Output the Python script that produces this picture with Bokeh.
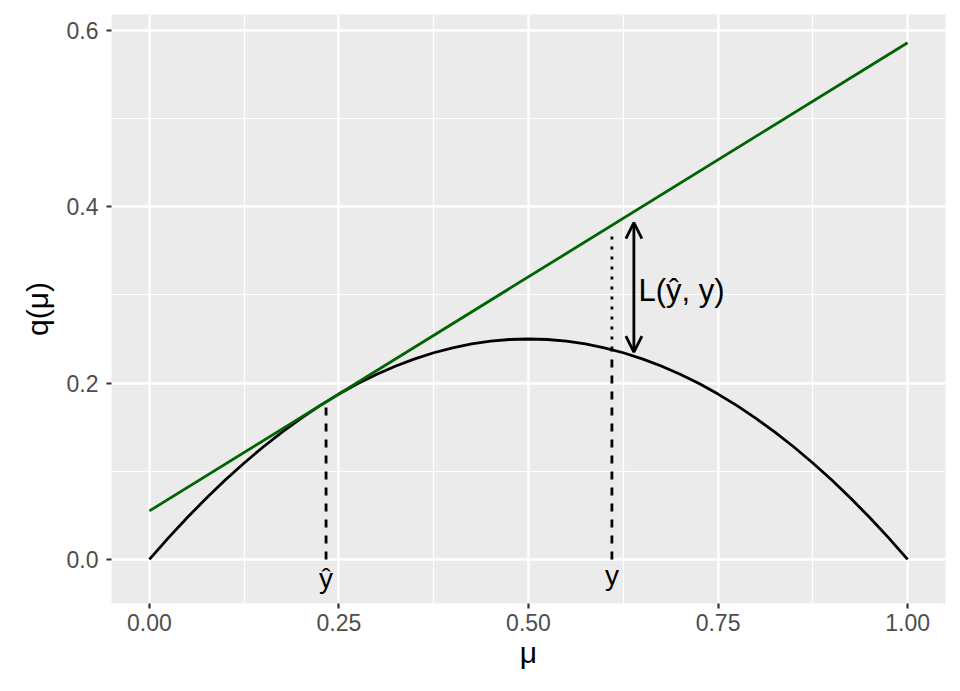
from bokeh.plotting import figure
from bokeh.models import FixedTicker, Range1d, Arrow, OpenHead, ColumnDataSource
from bokeh.core.properties import value
from bokeh.embed import file_html
from bokeh.resources import INLINE

# data
mu = [0.0, 0.025, 0.05, 0.075, 0.1, 0.125, 0.15, 0.175, 0.2, 0.225, 0.25, 0.275, 0.3, 0.325,
      0.35, 0.375, 0.4, 0.425, 0.45, 0.475, 0.5, 0.525, 0.55, 0.575, 0.6, 0.625, 0.65, 0.675,
      0.7, 0.725, 0.75, 0.775, 0.8, 0.825, 0.85, 0.875, 0.9, 0.925, 0.95, 0.975, 1.0]
q = [0.0, 0.0244, 0.0475, 0.0694, 0.09, 0.1094, 0.1275, 0.1444, 0.16, 0.1744, 0.1875, 0.1994,
     0.21, 0.2194, 0.2275, 0.2344, 0.24, 0.2444, 0.2475, 0.2494, 0.25, 0.2494, 0.2475, 0.2444,
     0.24, 0.2344, 0.2275, 0.2194, 0.21, 0.1994, 0.1875, 0.1744, 0.16, 0.1444, 0.1275, 0.1094,
     0.09, 0.0694, 0.0475, 0.0244, 0.0]
tangent_mu = [0.0, 1.0]
tangent_q = [0.055, 0.586]

yhat_x = 0.233
yhat_q = 0.179
y_x = 0.61
y_q = 0.238
y_tan = 0.372

arrow_x = 0.639
arrow_lo = 0.235
arrow_hi = 0.382

label_x = 0.645
label_y = 0.305
label_text = "L(ŷ, y)"
mark_labels = ["ŷ", "y"]
mark_x = [yhat_x, y_x]
mark_y = [-0.022, -0.018]

x_ticks = [0.0, 0.25, 0.5, 0.75, 1.0]
x_minor = [0.125, 0.375, 0.625, 0.875]
x_tick_labels = {0.0: "0.00", 0.25: "0.25", 0.5: "0.50", 0.75: "0.75", 1.0: "1.00"}
y_ticks = [0.0, 0.2, 0.4, 0.6]
y_minor = [0.1, 0.3, 0.5]
y_tick_labels = {0.0: "0.0", 0.2: "0.2", 0.4: "0.4", 0.6: "0.6"}

FONT = "Liberation Sans"

p = figure(width=952, height=683, output_backend="svg", toolbar_location=None,
           x_range=Range1d(-0.05, 1.05), y_range=Range1d(-0.05, 0.618),
           frame_width=834, frame_height=589,
           min_border_left=111, min_border_top=14, min_border_right=7, min_border_bottom=80)
p.background_fill_color = "#EBEBEB"
p.border_fill_color = "white"
p.outline_line_color = None

p.xaxis.ticker = FixedTicker(ticks=x_ticks, minor_ticks=x_minor)
p.yaxis.ticker = FixedTicker(ticks=y_ticks, minor_ticks=y_minor)
p.xaxis.major_label_overrides = x_tick_labels
p.yaxis.major_label_overrides = y_tick_labels

for g in (p.xgrid[0], p.ygrid[0]):
    g.grid_line_color = "white"
    g.grid_line_width = 2.4
    g.minor_grid_line_color = "white"
    g.minor_grid_line_width = 1.2

for ax in (p.xaxis[0], p.yaxis[0]):
    ax.axis_line_color = None
    ax.major_tick_line_color = "#333333"
    ax.major_tick_line_width = 2.2
    ax.major_tick_out = 5
    ax.major_tick_in = 0
    ax.minor_tick_line_color = None
    ax.major_label_text_font = FONT
    ax.major_label_text_font_size = "23px"
    ax.major_label_text_color = "#4D4D4D"
    ax.axis_label_text_font = FONT
    ax.axis_label_text_font_size = "30px"
    ax.axis_label_text_font_style = "normal"
    ax.axis_label_text_color = "black"

p.xaxis.axis_label = "μ"
p.yaxis.axis_label = "q(μ)"
p.xaxis.major_label_standoff = 5
p.yaxis.major_label_standoff = 8
p.xaxis.axis_label_standoff = 2
p.yaxis.axis_label_standoff = 10

# curve and tangent
p.line(mu, q, line_color="black", line_width=2.8)
p.line(tangent_mu, tangent_q, line_color="#006400", line_width=2.8)

# guide lines
p.line([yhat_x, yhat_x], [0, yhat_q], line_color="black", line_width=2.8, line_dash="8 8")
p.line([y_x, y_x], [0, y_q], line_color="black", line_width=2.8, line_dash="8 8")
p.line([y_x, y_x], [y_q, y_tan], line_color="black", line_width=2.8, line_dash="3 7")

# double arrow
p.add_layout(Arrow(x_start=arrow_x, y_start=arrow_lo, x_end=arrow_x, y_end=arrow_hi,
                   line_color="black", line_width=2.8,
                   start=OpenHead(size=16, line_color="black", line_width=2.8),
                   end=OpenHead(size=16, line_color="black", line_width=2.8)))

p.text([label_x], [label_y], text=[label_text], text_font=value(FONT),
       text_font_size="31px", text_baseline="middle", text_align="left", text_color="black")

src = ColumnDataSource(dict(x=mark_x, y=mark_y, t=mark_labels))
p.text("x", "y", text="t", source=src, text_font=value(FONT), text_font_size="28px",
       text_baseline="middle", text_align="center", text_color="black")

open("out.html", "w").write(file_html(p, INLINE))
